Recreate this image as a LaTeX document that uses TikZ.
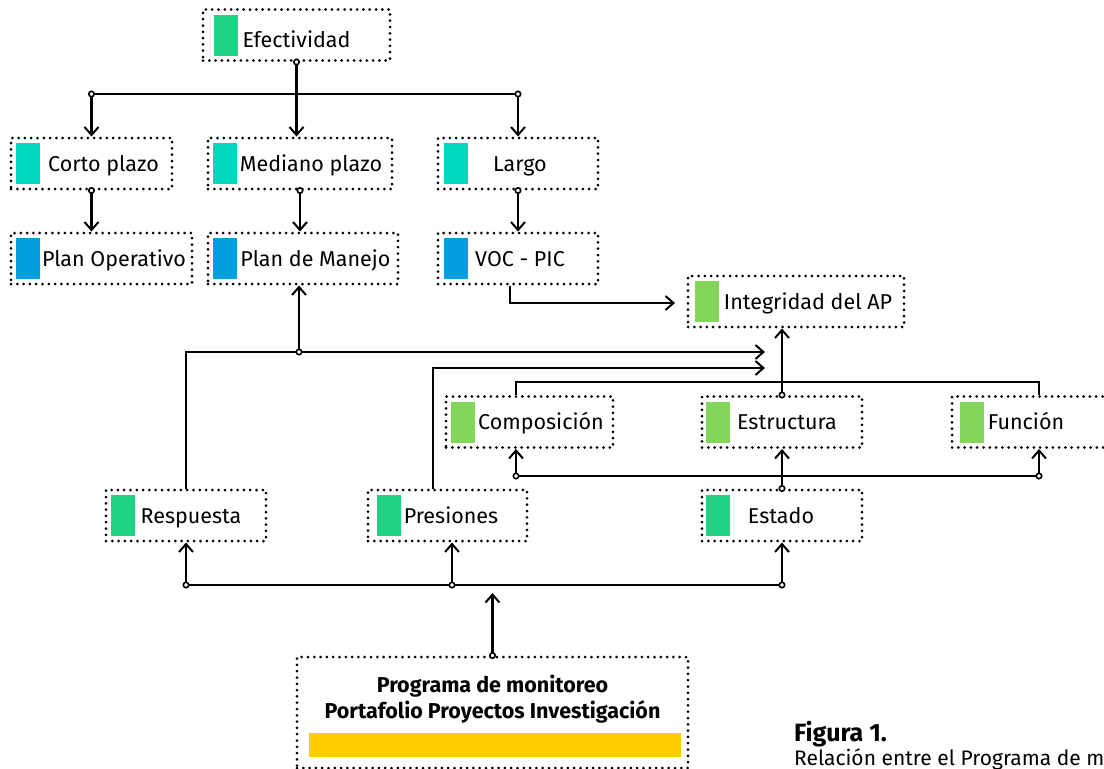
\documentclass[tikz,border=0pt]{standalone}
\usepackage{fontspec}
\setmainfont{Fira Sans}
\usetikzlibrary{arrows.meta}
\usetikzlibrary{positioning}

\definecolor{verde}{HTML}{22D384}
\definecolor{turquesa}{HTML}{00D9C0}
\definecolor{azul}{HTML}{009EE0}
\definecolor{verdeclaro}{HTML}{84D65A}
\definecolor{amarillo}{HTML}{FFCC00}

\tikzset{
  sq/.store in=\sqoff, sq=5,
  dots/.style={draw, line width=3pt, dash pattern=on 0pt off 6.3pt, line cap=round},
  box/.style 2 args={dots, minimum height=51pt, inner sep=0pt,
    text height=20pt, text depth=5pt, font=\fontsize{21.5}{26}\selectfont,
    execute at begin node={\hspace*{#2}},
    path picture={\fill[#1] ([xshift=\sqoff pt, yshift=5pt]path picture bounding box.south west)
      rectangle ([xshift=\sqoff pt+24pt, yshift=-5pt]path picture bounding box.north west);}},
  prog/.style={dots, minimum width=391pt, minimum height=111pt, inner sep=0pt,
    align=center, font=\bfseries\fontsize{21.5}{26}\selectfont,
    text height=61pt, text depth=50pt,
    path picture={\fill[amarillo] ([xshift=12pt, yshift=11pt]path picture bounding box.south west)
      rectangle ([xshift=-7pt, yshift=35pt]path picture bounding box.south east);}},
  ln/.style={line width=2.8pt},
  arr/.style={ln, -{Straight Barb[length=8pt, width=14pt, line width=2pt]}},
  oarr/.style={ln, {Circle[open, fill=white, length=7pt, width=7pt, line width=1.6pt]}-{Straight Barb[length=8pt, width=14pt, line width=2pt]},
    shorten <=-3.5pt}
}

\begin{document}
\begin{tikzpicture}[x=1pt, y=-1pt]
\useasboundingbox (0,0) rectangle (1104,769);

% objetivos
\node[box={verde}{0pt}, sq=11, text height=29pt, minimum width=187pt] (efect) at (296.5,35) {Efectividad};
\node[box={turquesa}{24pt}, minimum width=161pt] (corto) at (91.5,163.5) {Corto plazo};
\node[box={turquesa}{22pt}, minimum width=184pt] (medio) at (300,163.5) {Mediano plazo};
\node[box={turquesa}{4pt}, sq=6, minimum width=160pt] (largo) at (518,163.5) {Largo};
\node[box={azul}{25pt}, minimum width=181pt] (planop) at (101.5,258.5) {Plan Operativo};
\node[box={azul}{25pt}, minimum width=190pt] (manejo) at (303,258.5) {Plan de Manejo};
\node[box={azul}{4pt}, sq=6, minimum width=160pt] (voc) at (518,258.5) {VOC - PIC};

% integridad
\node[box={verdeclaro}{24pt}, sq=7, minimum width=216pt] (integ) at (796,301.5) {Integridad del AP};
\node[box={verdeclaro}{23pt}, minimum width=167pt] (compo) at (529.5,422) {Composición};
\node[box={verdeclaro}{10pt}, sq=4, minimum width=160pt] (estru) at (782,422) {Estructura};
\node[box={verdeclaro}{-12pt}, sq=8, minimum width=160pt] (funcion) at (1032,422) {Función};

% modelo
\node[box={verde}{10pt}, minimum width=160pt] (resp) at (186,515.5) {Respuesta};
\node[box={verde}{7pt}, sq=9, minimum width=159pt] (presi) at (447.5,515.5) {Presiones};
\node[box={verde}{-2pt}, sq=4, minimum width=160pt] (estado) at (782,515.5) {Estado};

\node[prog] (programa) at (492.5,712.5) {Programa de monitoreo\\Portafolio Proyectos Investigación};

% pie
\node[anchor=base west, inner sep=0pt, font=\bfseries\fontsize{25}{30}\selectfont] (fig) at (794,741) {Figura 1.};
\node[anchor=base west, inner sep=0pt, font=\fontsize{21}{25}\selectfont] (rel) at (794,765) {Relación entre el Programa de m};

\coordinate (t) at (0,94);
\coordinate (r1) at (765,352);
\coordinate (mj) at (299,352);
\coordinate (p1) at (765,368);
\coordinate (brk) at (0,382);
\coordinate (cl) at (516,476);
\coordinate (cr) at (1039,476);
\coordinate (v1) at (675,303);
\coordinate (b1) at (0,585);
\coordinate (b2) at (0,593);

\draw[ln] (corto.north |- t) -- (largo.north |- t);
\draw[oarr] (efect.south) -- (efect.south |- medio.north);
\draw[oarr] (corto.north |- t) -- (corto.north);
\draw[oarr] (largo.north |- t) -- (largo.north);
\draw[oarr] (corto.south) -- (corto.south |- planop.north);
\draw[oarr] (medio.south) -- (medio.south |- manejo.north);
\draw[oarr] (largo.south) -- (voc.north);
\draw[arr] ([xshift=-8pt]voc.south) |- (v1);

\draw[arr] (resp.north) |- (r1);
\draw[oarr] (mj) -- (mj |- manejo.south);
\draw[arr] ([xshift=-14.5pt]presi.north) |- (p1);

\draw[ln] (cl |- compo.north) -- (cl |- brk) -- (cr |- brk) -- (cr |- funcion.north);
\draw[oarr] (estru.north) -- (estru.north |- integ.south);
\draw[ln] (cl) -- (cr);
\draw[oarr] (cl) -- (cl |- compo.south);
\draw[oarr] (cr) -- (cr |- funcion.south);
\draw[oarr] (estado.north) -- (estru.south);

\draw[ln] (resp.south |- b1) -- (estado.south |- b1);
\draw[oarr] (resp.south |- b1) -- (resp.south);
\draw[oarr] ([xshift=4.5pt]presi.south |- b1) -- ([xshift=4.5pt]presi.south);
\draw[oarr] (estado.south |- b1) -- (estado.south);
\draw[oarr] (programa.north) -- (programa.north |- b2);
\end{tikzpicture}
\end{document}
